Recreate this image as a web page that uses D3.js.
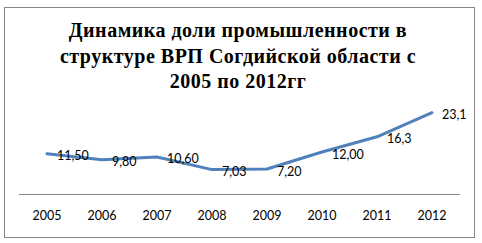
<!DOCTYPE html>
<html>
<head>
<meta charset="utf-8">
<script src="https://cdnjs.cloudflare.com/ajax/libs/d3/7.8.5/d3.min.js"></script>
<style>
  body { margin: 0; background: #fff; }
  svg { display: block; }
</style>
</head>
<body>
<div id="chart"></div>
<script>
// данные графика
const years = ['2005', '2006', '2007', '2008', '2009', '2010', '2011', '2012'];
const shares = [11.5, 9.8, 10.6, 7.03, 7.2, 12.0, 16.3, 23.1];
const valueLabels = ['11,50', '9,80', '10,60', '7,03', '7,20', '12,00', '16,3', '23,1'];
const titleLines = [
    'Динамика доли промышленности в',
    'структуре ВРП Согдийской области с',
    '2005 по 2012гг'
];

const width = 482;
const height = 243;

const svg = d3.select('#chart')
    .append('svg')
    .attr('width', width)
    .attr('height', height);

// рамка
svg.append('rect')
    .attr('x', 4.5)
    .attr('y', 7.5)
    .attr('width', 470)
    .attr('height', 230)
    .attr('fill', '#fff')
    .attr('stroke', '#868686')
    .attr('stroke-width', 1);

// заголовок
svg.append('text')
    .attr('text-anchor', 'middle')
    .attr('font-family', '"Liberation Serif", "Times New Roman", serif')
    .attr('font-weight', 'bold')
    .attr('font-size', '20px')
    .attr('letter-spacing', '0.5px')
    .attr('fill', '#000')
    .selectAll('tspan')
    .data(titleLines)
    .enter().append('tspan')
    .attr('x', 238)
    .attr('y', (d, i) => 37 + i * 25.5)
    .text((d) => d);

const x = d3.scalePoint()
    .domain(years)
    .range([47, 432]);

const y = d3.scaleLinear()
    .domain([0, 25])
    .range([194.5, 106]);

// ось X
svg.append('line')
    .attr('x1', 19)
    .attr('x2', 460)
    .attr('y1', y(0))
    .attr('y2', y(0))
    .attr('stroke', '#868686')
    .attr('stroke-width', 1);

svg.append('g')
    .selectAll('text')
    .data(years)
    .enter().append('text')
    .attr('x', (d) => x(d))
    .attr('y', 220)
    .attr('text-anchor', 'middle')
    .attr('font-family', 'Lato, "Open Sans", sans-serif')
    .attr('font-size', '12.5px')
    .attr('fill', '#000')
    .text((d) => d);

// линия
const line = d3.line()
    .x((d, i) => x(years[i]))
    .y((d) => y(d));

svg.append('path')
    .datum(shares)
    .attr('d', line)
    .attr('fill', 'none')
    .attr('stroke', '#4F81BD')
    .attr('stroke-width', 3)
    .attr('stroke-linejoin', 'round')
    .attr('stroke-linecap', 'round');

// подписи значений
svg.append('g')
    .selectAll('text')
    .data(shares)
    .enter().append('text')
    .attr('x', (d, i) => x(years[i]) + 10)
    .attr('y', (d) => y(d) + 2)
    .attr('dominant-baseline', 'central')
    .attr('font-family', 'Lato, "Open Sans", sans-serif')
    .attr('font-size', '12.5px')
    .attr('fill', '#000')
    .text((d, i) => valueLabels[i]);
</script>
</body>
</html>
